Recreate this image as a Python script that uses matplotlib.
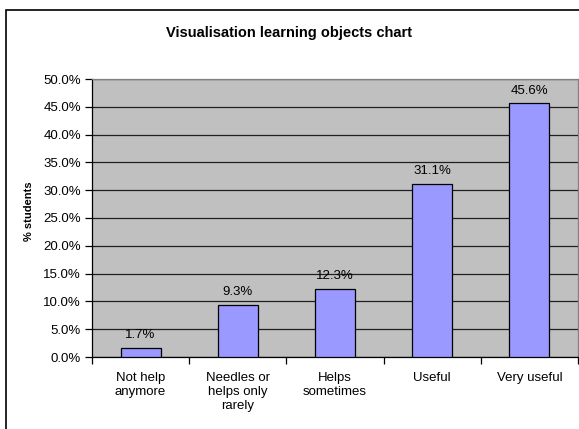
import matplotlib.pyplot as plt
import matplotlib.patches as patches
import numpy as np

plt.rcParams['font.family'] = ['Liberation Sans', 'DejaVu Sans']

# Data
categories = ['Not help\nanymore', 'Needles or\nhelps only\nrarely', 'Helps\nsometimes',
              'Useful', 'Very useful']
percent = [1.7, 9.3, 12.3, 31.1, 45.6]
y_ticks = [0, 5, 10, 15, 20, 25, 30, 35, 40, 45, 50]

fig = plt.figure(figsize=(5.79, 4.29), dpi=100)
fig.patch.set_facecolor('white')

# Outer chart border (Excel style, cropped at right/bottom)
border = patches.Rectangle((6 / 579, -0.5), 2, 1.5 - 10 / 429,
                           transform=fig.transFigure, fill=False,
                           edgecolor='black', linewidth=1.2)
fig.patches.append(border)

ax = fig.add_axes([92 / 579, 1 - 357 / 429, 486 / 579, 278 / 429])
ax.set_facecolor('#C0C0C0')

x = np.arange(len(categories))
bars = ax.bar(x, percent, width=0.41, color='#9999FF', edgecolor='black',
              linewidth=0.9, zorder=3)

for bar, v in zip(bars, percent):
    ax.annotate(f'{v:.1f}%', (bar.get_x() + bar.get_width() / 2, v),
                xytext=(0, 5), textcoords='offset points',
                ha='center', va='bottom', fontsize=9.5)

ax.set_xlim(-0.5, len(categories) - 0.5)
ax.set_ylim(0, 50)
ax.set_yticks(y_ticks)
ax.set_yticklabels([f'{t:.1f}%' for t in y_ticks], fontsize=9.5)
ax.yaxis.grid(True, color='#202020', linewidth=0.9, zorder=1)
ax.set_axisbelow(True)

ax.set_xticks(x)
ax.set_xticklabels(categories, fontsize=9.5, va='top', linespacing=1.2)
ax.tick_params(axis='x', which='major', length=0, pad=11)
ax.set_xticks(np.arange(-0.5, len(categories)), minor=True)
ax.tick_params(axis='x', which='minor', length=5, direction='out', width=0.9)
ax.tick_params(axis='y', length=5, direction='out', width=0.9, pad=3)

for side in ['left', 'bottom']:
    ax.spines[side].set_color('black')
    ax.spines[side].set_linewidth(0.9)
for side in ['top', 'right']:
    ax.spines[side].set_color('#808080')
    ax.spines[side].set_linewidth(0.9)

fig.text(29 / 579, 1 - 211 / 429, '% students', rotation=90,
         ha='center', va='center', fontsize=8, fontweight='bold')
fig.text(0.5, 1 - 33 / 429, 'Visualisation learning objects chart',
         ha='center', va='center', fontsize=10.5, fontweight='bold')

fig.savefig('out.png', dpi=100)
